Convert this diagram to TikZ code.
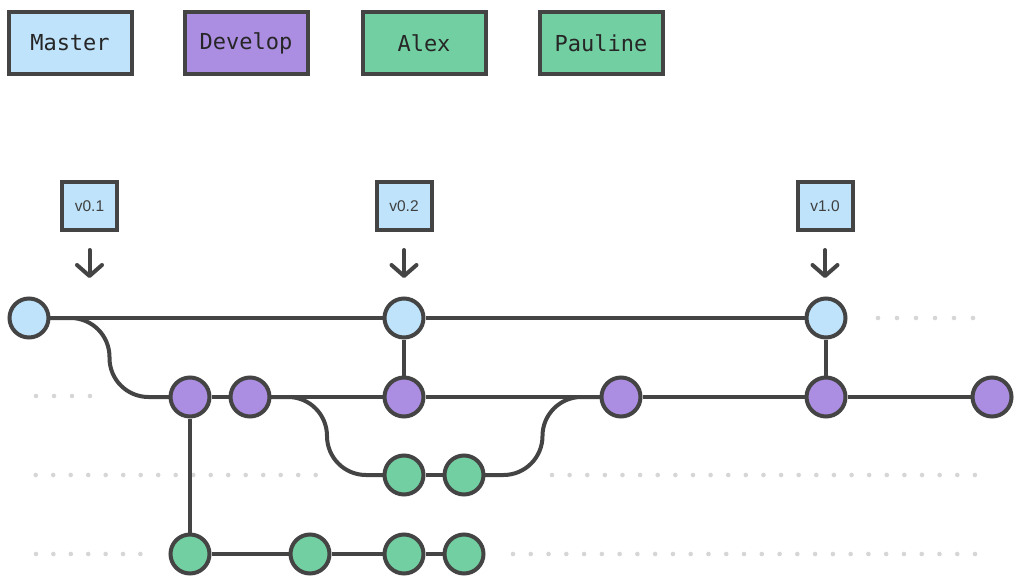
\documentclass[tikz,border=0pt]{standalone}
\usepackage{fontspec}
\setmainfont{Liberation Sans}
\setmonofont{DejaVu Sans Mono}
\usetikzlibrary{arrows.meta,backgrounds,calc}
\definecolor{edge}{HTML}{444444}
\definecolor{mst}{HTML}{BEE3FA}
\definecolor{dev}{HTML}{AB8DE1}
\definecolor{grn}{HTML}{72CFA2}
\definecolor{dotc}{HTML}{D6D6D6}
\begin{document}
\begin{tikzpicture}[x=1pt,y=-1pt,
 legend/.style={draw=edge,line width=4pt,minimum width=123pt,minimum height=62pt,inner sep=0pt,font=\ttfamily\fontsize{22}{24}\selectfont,text=black!85},
 tagbox/.style={draw=edge,fill=mst,line width=4pt,minimum width=55pt,minimum height=48pt,inner sep=0pt,font=\fontsize{15.5}{17}\selectfont,text=black!75},
 commit/.style={circle,draw=edge,line width=4pt,minimum size=39pt,inner sep=0pt},
 mc/.style={commit,fill=mst},
 dc/.style={commit,fill=dev},
 gc/.style={commit,fill=grn},
 link/.style={draw=edge,line width=4pt},
 curve/.style={link,rounded corners=39pt},
 tagarrow/.style={draw=edge,line width=4pt,line cap=round,-{Straight Barb[length=11pt,width=25pt,round]},shorten <=18pt,shorten >=18.5pt},
 dot/.style={fill=dotc}]
\useasboundingbox (0,0) rectangle (1024,583);

% legend
\node[legend,fill=mst] (lmaster) at (70,43) {Master};
\node[legend,fill=dev] (ldevelop) at (246,43) {Develop};
\node[legend,fill=grn] (lalex) at (424,43) {Alex};
\node[legend,fill=grn] (lpauline) at (601,43) {Pauline};

% tags
\node[tagbox] (t1) at (89.5,206) {v0.1};
\node[tagbox] (t2) at (404,206) {v0.2};
\node[tagbox] (t3) at (825,206) {v1.0};

% master
\node[mc] (m1) at (29,318) {};
\node[mc] (m2) at (404,318) {};
\node[mc] (m3) at (826,318) {};

% develop
\node[dc] (d1) at (190,397) {};
\node[dc] (d2) at (250,397) {};
\node[dc] (d3) at (404,397) {};
\node[dc] (d4) at (621,397) {};
\node[dc] (d5) at (826,397) {};
\node[dc] (d6) at (992,397) {};

% alex
\node[gc] (a1) at (404,475) {};
\node[gc] (a2) at (464,475) {};

% pauline
\node[gc] (p1) at (190,554) {};
\node[gc] (p2) at (310,554) {};
\node[gc] (p3) at (404,554) {};
\node[gc] (p4) at (464,554) {};

% bend points of the curved branches
\coordinate (c1) at ($(m1.center)!0.5!(d1.center)$);
\coordinate (c2) at ($(d2.center)!0.5!(a1.center)$);
\coordinate (c3) at ($(a2.center)!0.5!(d4.center)$);

\begin{scope}[on background layer]
 % dots
 \foreach \i in {0,...,5} \fill[dot] (878+19*\i,318) circle (2.3pt);
 \foreach \i in {0,...,3} \fill[dot] (36+18*\i,396) circle (2.3pt);
 \foreach \i in {0,...,16} \fill[dot] (35.7+17.5*\i,475) circle (2.3pt);
 \foreach \i in {0,...,24} \fill[dot] (552+17.62*\i,475) circle (2.3pt);
 \foreach \i in {0,...,6} \fill[dot] (36+17.4*\i,554) circle (2.3pt);
 \foreach \i in {0,...,26} \fill[dot] (513+17.77*\i,554) circle (2.3pt);
 % connectors
 \draw[link] (m1) -- (m2) -- (m3);
 \draw[link] (m2) -- (d3);
 \draw[link] (m3) -- (d5);
 \draw[link] (d1) -- (d2) -- (d3) -- (d4) -- (d5) -- (d6);
 \draw[curve] (m1.center) -- (c1 |- m1.center) -- (c1 |- d1.center) -- (d1.center);
 \draw[curve] (d2.center) -- (c2 |- d2.center) -- (c2 |- a1.center) -- (a1.center);
 \draw[link] (a1) -- (a2);
 \draw[curve] (a2.center) -- (c3 |- a2.center) -- (c3 |- d4.center) -- (d4.center);
 \draw[link] (d1) -- (p1);
 \draw[link] (p1) -- (p2) -- (p3) -- (p4);
\end{scope}

% tag arrows
\draw[tagarrow] (t1.south) -- (t1.south |- m1.north);
\draw[tagarrow] (t2.south) -- (t2.south |- m2.north);
\draw[tagarrow] (t3.south) -- (t3.south |- m3.north);
\end{tikzpicture}
\end{document}
